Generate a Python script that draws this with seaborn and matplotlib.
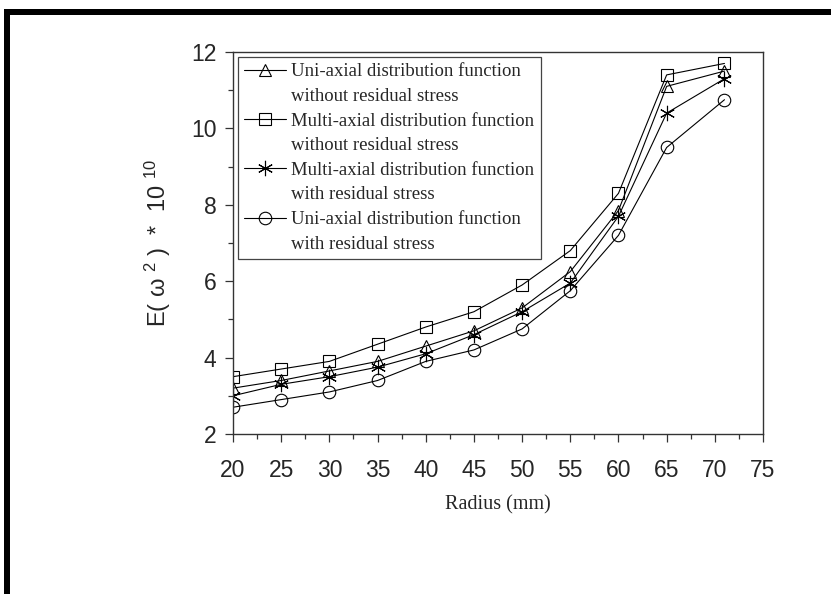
import pandas as pd
import matplotlib.pyplot as plt
import seaborn as sns
from matplotlib.lines import Line2D
from matplotlib.patches import Rectangle
from matplotlib.ticker import MultipleLocator

radius = [20, 25, 30, 35, 40, 45, 50, 55, 60, 65, 71]

uni_no_res = [3.2, 3.4, 3.65, 3.9, 4.3, 4.7, 5.3, 6.25, 7.85, 11.1, 11.5]
multi_no_res = [3.5, 3.7, 3.9, 4.35, 4.8, 5.2, 5.9, 6.8, 8.3, 11.4, 11.7]
multi_res = [3.0, 3.3, 3.5, 3.75, 4.1, 4.6, 5.2, 5.95, 7.7, 10.4, 11.3]
uni_res = [2.7, 2.9, 3.1, 3.4, 3.9, 4.2, 4.75, 5.75, 7.2, 9.5, 10.75]

series_names = ["uni_no_res", "multi_no_res", "multi_res", "uni_res"]
label_lines = [
    ("Uni-axial distribution function", "without residual stress"),
    ("Multi-axial distribution function", "without residual stress"),
    ("Multi-axial distribution function", "with residual stress"),
    ("Uni-axial distribution function", "with residual stress"),
]
marker_map = {"uni_no_res": "^", "multi_no_res": "s",
              "multi_res": (6, 2, 0), "uni_res": "o"}
size_map = {"uni_no_res": 9, "multi_no_res": 9, "multi_res": 11, "uni_res": 9}

df = pd.DataFrame({
    "radius": radius * 4,
    "value": uni_no_res + multi_no_res + multi_res + uni_res,
    "series": sum([[s] * len(radius) for s in series_names], []),
})

sns.set_style("ticks")
plt.rcParams["font.family"] = ["Liberation Sans", "DejaVu Sans"]
plt.rcParams["mathtext.fontset"] = "custom"
plt.rcParams["mathtext.rm"] = "Liberation Sans"
plt.rcParams["mathtext.default"] = "regular"

fig = plt.figure(figsize=(8.31, 5.94), dpi=100)
ax = fig.add_axes([0.2804, 0.2694, 0.6378, 0.6431])

base = dict(color="black", linewidth=0.8, markerfacecolor="none",
            markeredgecolor="black", markeredgewidth=0.8)
for s in series_names:
    sub = df[df["series"] == s]
    sns.lineplot(data=sub, x="radius", y="value", marker=marker_map[s],
                 markersize=size_map[s], ax=ax, legend=False, **base)

ax.set_xlim(20, 75)
ax.set_ylim(2, 12)
ax.xaxis.set_major_locator(MultipleLocator(5))
ax.xaxis.set_minor_locator(MultipleLocator(2.5))
ax.yaxis.set_major_locator(MultipleLocator(2))
ax.yaxis.set_minor_locator(MultipleLocator(1))
ax.tick_params(which="major", direction="out", length=6, width=0.9,
               labelsize=16.5, color="#333333")
ax.tick_params(axis="x", which="major", pad=12)
ax.tick_params(axis="y", which="major", pad=6)
ax.tick_params(which="minor", direction="out", length=3.6, width=0.9, color="#333333")
for sp in ax.spines.values():
    sp.set_visible(True)
    sp.set_color("#333333")
    sp.set_linewidth(1.0)

ax.set_xlabel("Radius (mm)", family="Liberation Serif", fontsize=14.5)
ax.set_ylabel("E( ω $^{2}$ )  *  10 $^{10}$", fontsize=17)
ax.xaxis.set_label_coords(0.5, -0.16)
ax.yaxis.set_label_coords(-0.113, 0.5)

handles, labels = [], []
for s, (l1, l2) in zip(series_names, label_lines):
    handles.append(Line2D([], [], marker=marker_map[s], markersize=size_map[s], **base))
    labels.append(l1)
    handles.append(Line2D([], [], linestyle="none"))
    labels.append(l2)
leg = ax.legend(handles, labels, loc="upper left", frameon=True, fancybox=False,
                framealpha=1, edgecolor="#444444",
                prop={"family": "Liberation Serif", "size": 13.5},
                handlelength=2.2, handletextpad=0.3, labelspacing=0.4,
                borderpad=0.35, borderaxespad=0.25)
leg.get_frame().set_linewidth(0.9)

# page frame visible along the top and left edges
fig.add_artist(Rectangle((0.0048, 0.9747), 1.0, 0.0101, transform=fig.transFigure,
                         color="black", lw=0))
fig.add_artist(Rectangle((0.0048, 0.0), 0.0072, 0.9848, transform=fig.transFigure,
                         color="black", lw=0))

plt.savefig("out.png", dpi=100)
